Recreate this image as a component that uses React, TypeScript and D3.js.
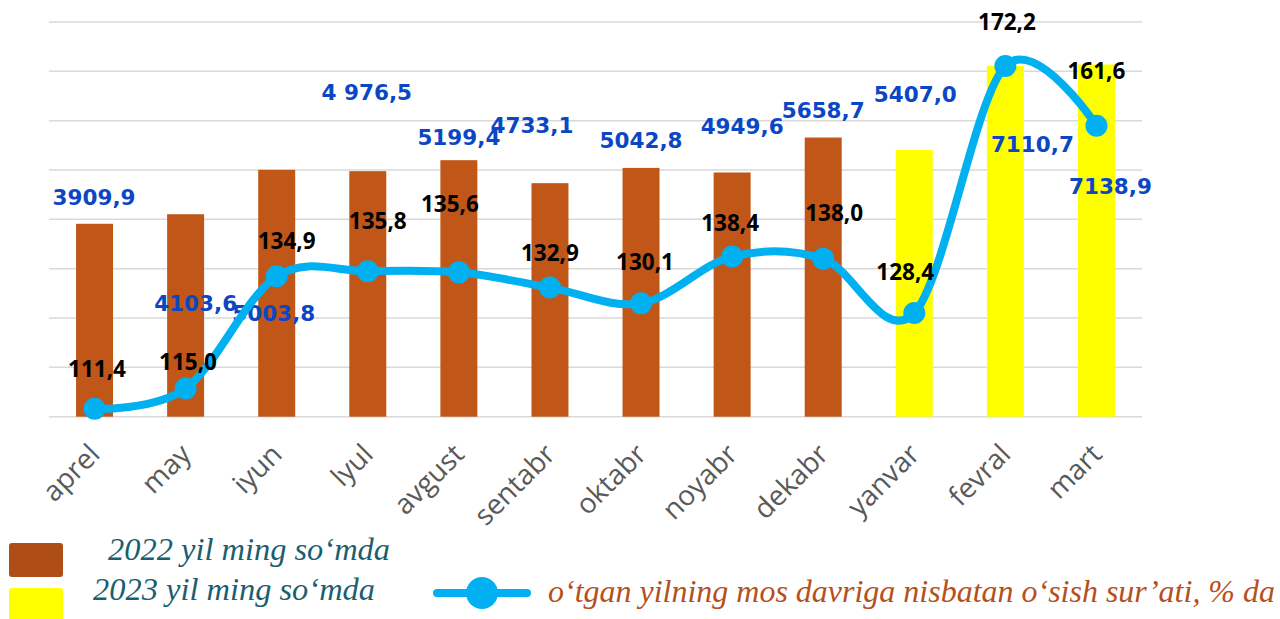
import React from 'react';
import * as d3 from 'd3';

const categories = ['aprel', 'may', 'iyun', 'lyul', 'avgust', 'sentabr', 'oktabr', 'noyabr', 'dekabr', 'yanvar', 'fevral', 'mart'];
const salesValues = [3909.9, 4103.6, 5003.8, 4976.5, 5199.4, 4733.1, 5042.8, 4949.6, 5658.7, 5407.0, 7110.7, 7138.9];
const salesLabels = ['3909,9', '4103,6', '5003,8', '4 976,5', '5199,4', '4733,1', '5042,8', '4949,6', '5658,7', '5407,0', '7110,7', '7138,9'];
const salesYear = [2022, 2022, 2022, 2022, 2022, 2022, 2022, 2022, 2022, 2023, 2023, 2023];
const growthValues = [111.4, 115.0, 134.9, 135.8, 135.6, 132.9, 130.1, 138.4, 138.0, 128.4, 172.2, 161.6];
const legendLabels = ['2022 yil ming so\u2018mda', '2023 yil ming so\u2018mda', 'o\u2018tgan yilning mos davriga nisbatan o\u2018sish sur\u2019ati, % da'];

// label nudges (layout only): [dx, dy] from bar top / line point
const barLabelNudge = [[-0.5, -19], [10, 96.5], [-3, 151], [-1, -71], [0, -15], [-18, -50], [0, -20], [10, -38], [0, -20], [1, -48], [27, 86], [14, 130]];
const lineLabelNudge = [[2.5, -32], [2.4, -19], [10, -27], [10, -42], [-9, -60], [0, -27], [4, -33], [-2, -26], [11, -38], [-9, -33], [1.6, -36], [0, -47]];

const W = 1280;
const H = 619;
const plotLeft = 49;
const plotRight = 1142;
const plotTop = 22;
const plotBottom = 416.7;

const barColors: Record<number, string> = { 2022: '#C05618', 2023: '#FFFF00' };

export default function App() {
  const x = d3.scaleBand<string>().domain(categories).range([plotLeft, plotRight]).paddingInner(0.594).paddingOuter(0.297);
  const y = d3.scaleLinear().domain([0, 8000]).range([plotBottom, plotTop]);
  const y2 = d3.scaleLinear().domain([110, 180]).range([plotBottom, plotTop]);
  const cx = (c: string) => (x(c) as number) + x.bandwidth() / 2;
  const fmt = (v: number) => d3.format('.1f')(v).replace('.', ',');

  const pts: [number, number][] = categories.map((c, i) => [cx(c), y2(growthValues[i])]);
  const linePath = d3.line().curve(d3.curveCardinal.tension(0))(pts) || '';
  const grid = y.ticks(8);

  return (
    <svg width={W} height={H} style={{ position: 'absolute', left: 0, top: 0, background: '#fff' }}>
      <rect x={0} y={0} width={W} height={H} fill="#fff" />
      {grid.map((g) => (
        <line key={g} x1={plotLeft} x2={plotRight} y1={y(g)} y2={y(g)} stroke="#D9D9D9" strokeWidth={1.5} />
      ))}
      {categories.map((c, i) => (
        <rect key={c} x={x(c)} y={y(salesValues[i])} width={x.bandwidth()} height={y(0) - y(salesValues[i])} fill={barColors[salesYear[i]]} />
      ))}
      {categories.map((c, i) => (
        <text key={'bl' + c} x={cx(c) + barLabelNudge[i][0]} y={y(salesValues[i]) + barLabelNudge[i][1]} textAnchor="middle"
          fontFamily="'DejaVu Sans', sans-serif" fontWeight="bold" fontSize={21.5} fill="#0B47C4">{salesLabels[i]}</text>
      ))}
      <path d={linePath} fill="none" stroke="#00B0F0" strokeWidth={8} strokeLinejoin="round" strokeLinecap="round" />
      {pts.map((p, i) => (
        <circle key={'m' + i} cx={p[0]} cy={p[1]} r={11} fill="#00B0F0" />
      ))}
      {categories.map((c, i) => (
        <text key={'ll' + c} x={pts[i][0] + lineLabelNudge[i][0]} y={pts[i][1] + lineLabelNudge[i][1]} textAnchor="middle"
          fontFamily="'Open Sans', sans-serif" fontWeight="bold" fontSize={22.5} fill="#000">{fmt(growthValues[i])}</text>
      ))}
      {categories.map((c) => (
        <text key={'ax' + c} transform={`translate(${cx(c) + 7},${456}) rotate(-45)`} textAnchor="end"
          fontFamily="'Open Sans', sans-serif" fontSize={28} fill="#595959">{c}</text>
      ))}
      {/* legend */}
      <rect x={9} y={543} width={54} height={34} rx={3} fill="#AE4D15" />
      <rect x={9} y={588} width={54} height={40} rx={3} fill="#FFFF00" />
      <text x={108} y={560} fontFamily="'Liberation Serif', serif" fontStyle="italic" fontSize={31} fill="#1B5E70"
        textLength={282} lengthAdjust="spacingAndGlyphs">{legendLabels[0]}</text>
      <text x={93} y={600} fontFamily="'Liberation Serif', serif" fontStyle="italic" fontSize={31} fill="#1B5E70"
        textLength={282} lengthAdjust="spacingAndGlyphs">{legendLabels[1]}</text>
      <line x1={437} x2={527} y1={593} y2={593} stroke="#00B0F0" strokeWidth={8} strokeLinecap="round" />
      <circle cx={482} cy={593} r={16} fill="#00B0F0" />
      <text x={548} y={602} fontFamily="'Liberation Serif', serif" fontStyle="italic" fontSize={31} fill="#B5501B"
        textLength={727} lengthAdjust="spacingAndGlyphs">{legendLabels[2]}</text>
    </svg>
  );
}
